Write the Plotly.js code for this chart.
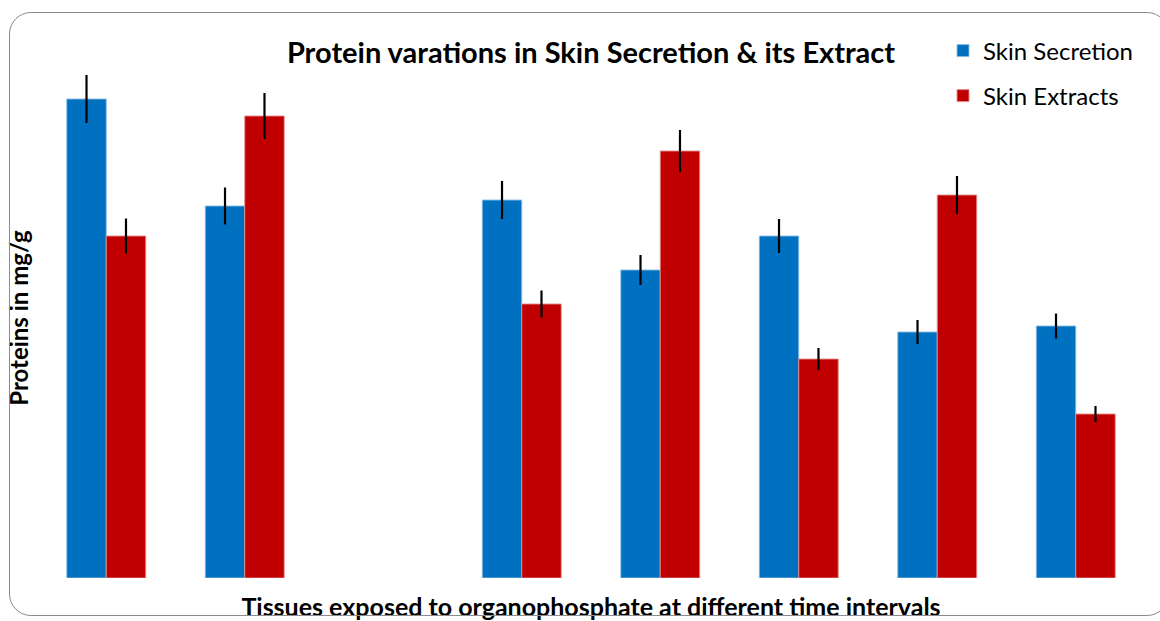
<!DOCTYPE html>
<html>
<head>
<meta charset="utf-8">
<script src="https://cdn.plot.ly/plotly-3.0.1.min.js"></script>
<style>
  html, body { margin: 0; padding: 0; background: #fff; }
  #wrap { position: relative; width: 1160px; height: 621px; overflow: hidden; }
  #chart { width: 1160px; height: 621px; }
  #frame { position: absolute; left: 9px; top: 12px; width: 1160px; height: 604px;
           border: 1.5px solid #8c8c8c; border-radius: 22px; pointer-events: none; box-sizing: border-box; }
</style>
</head>
<body>
<div id="wrap">
  <div id="chart"></div>
  <div id="frame"></div>
</div>
<script>
// Data (arbitrary units; slot 3 is empty)
const categories = ["1", "2", "3", "4", "5", "6", "7", "8"];
const secretionValues = [47.9, 37.2, null, 37.8, 30.8, 34.2, 24.6, 25.2];
const secretionErrors = [2.4, 1.85, null, 1.9, 1.5, 1.7, 1.2, 1.25];
const extractValues   = [34.2, 46.2, null, 27.4, 42.7, 21.9, 38.3, 16.4];
const extractErrors   = [1.75, 2.3, null, 1.35, 2.1, 1.1, 1.9, 0.8];
const seriesNames = ["Skin Secretion", "Skin Extracts"];

const FONT = "Lato, 'Open Sans', 'DejaVu Sans', sans-serif";

const traces = [
  {
    type: "bar", name: seriesNames[0], x: categories, y: secretionValues,
    marker: { color: "#0070C0", line: { color: "rgba(140,190,230,0.9)", width: 1 } },
    error_y: { type: "data", array: secretionErrors, visible: true, color: "#000", thickness: 2.2, width: 0 },
    legend: "legend"
  },
  {
    type: "bar", name: seriesNames[1], x: categories, y: extractValues,
    marker: { color: "#C00000", line: { color: "rgba(230,140,140,0.9)", width: 1 } },
    error_y: { type: "data", array: extractErrors, visible: true, color: "#000", thickness: 2.2, width: 0 },
    legend: "legend2"
  }
];

const layout = {
  width: 1160, height: 621,
  margin: { l: 37, r: 15, t: 58, b: 43, autoexpand: false },
  paper_bgcolor: "#fff", plot_bgcolor: "#fff",
  font: { family: FONT, color: "#000" },
  barmode: "group", bargap: 0.43, bargroupgap: 0,
  title: {
    text: "<b>Protein varations in Skin Secretion &amp; its Extract</b>",
    font: { family: FONT, size: 29, color: "#000" },
    xref: "paper", x: 0.5, xanchor: "center",
    yref: "container", y: 1 - 53 / 621, yanchor: "middle"
  },
  xaxis: {
    type: "category", range: [-0.5, 7.5], showticklabels: false, ticks: "",
    showgrid: false, zeroline: false, showline: false,
    title: { text: "<b>Tissues exposed to organophosphate at different time intervals</b>",
             font: { family: FONT, size: 25, color: "#000" }, standoff: 20 }
  },
  yaxis: {
    range: [0, 52], showticklabels: false, ticks: "", showgrid: false,
    zeroline: false, showline: false,
    title: { text: "<b>Proteins in mg/g</b>", font: { family: FONT, size: 24, color: "#000" }, standoff: 0 }
  },
  showlegend: true,
  legend: {
    xref: "container", yref: "container", x: 943 / 1160, y: 1 - 51 / 621,
    xanchor: "left", yanchor: "middle", bgcolor: "rgba(0,0,0,0)",
    font: { family: FONT, size: 24, color: "#000" }
  },
  legend2: {
    xref: "container", yref: "container", x: 943 / 1160, y: 1 - 96 / 621,
    xanchor: "left", yanchor: "middle", bgcolor: "rgba(0,0,0,0)",
    font: { family: FONT, size: 24, color: "#000" }
  }
};

Plotly.newPlot("chart", traces, layout, { displayModeBar: false, staticPlot: true });
</script>
</body>
</html>
